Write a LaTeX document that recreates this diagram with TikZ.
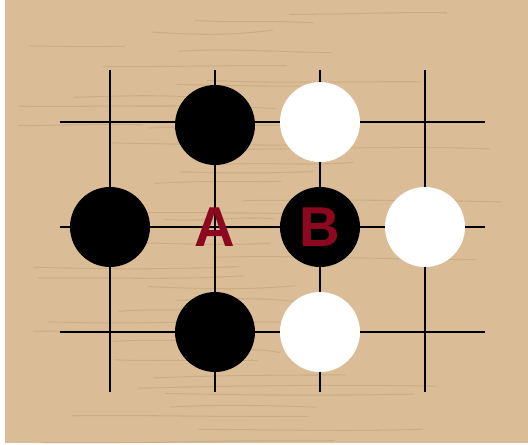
\documentclass[tikz,border=0pt]{standalone}
\usepackage{fontspec}
\setsansfont{Liberation Sans}
\usetikzlibrary{positioning}

\definecolor{wood}{RGB}{218,189,150}
\definecolor{grain}{RGB}{170,138,98}
\definecolor{marker}{RGB}{140,8,30}

\begin{document}
\begin{tikzpicture}[
          x=0.02cm, y=-0.02cm,
          stone/.style={circle, minimum size=1.6cm, inner sep=0pt},
          blackstone/.style={stone, fill=black},
          whitestone/.style={stone, fill=white},
          gridline/.style={line width=0.04cm, black},
          letter/.style={text=marker, font=\sffamily\bfseries\fontsize{32}{32}\selectfont, inner sep=0pt}
        ]
          \useasboundingbox (0,0) rectangle (528,444);
          % board with a little grain
          \fill[wood] (5,0) rectangle (528,443);
          \begin{scope}
            \clip (5,0) rectangle (528,443);
            \pgfmathsetseed{11}
            \foreach \k in {1,...,40} {
              \pgfmathsetmacro{\gy}{\k*11 + 5*rand}
              \pgfmathsetmacro{\gx}{5 + 300*rnd}
              \pgfmathsetmacro{\gl}{80 + 220*rnd}
              \draw[grain, line width=0.6pt, opacity=0.3]
                (\gx,\gy) .. controls (\gx+\gl/3,\gy+4*rand) and (\gx+2*\gl/3,\gy+4*rand) .. (\gx+\gl,\gy+3*rand);
            }
          \end{scope}

          % grid points
          \foreach \i/\x in {0/110, 1/215, 2/320, 3/425}
            \foreach \j/\y in {0/122, 1/227, 2/332}
              \coordinate (p-\i-\j) at (\x,\y);

          % grid lines
          \foreach \i in {0,...,3}
            \draw[gridline] ([yshift=1.04cm]p-\i-0) -- ([yshift=-1.2cm]p-\i-2);
          \foreach \j in {0,...,2}
            \draw[gridline] ([xshift=-1.0cm]p-0-\j) -- ([xshift=1.2cm]p-3-\j);

          % stones
          \node[blackstone] (b1) at ([yshift=-0.06cm]p-1-0) {};
          \node[blackstone] (b2) at (p-0-1) {};
          \node[blackstone] (b3) at (p-2-1) {};
          \node[blackstone] (b4) at (p-1-2) {};
          \node[whitestone] (w1) at (p-2-0) {};
          \node[whitestone] (w2) at (p-3-1) {};
          \node[whitestone] (w3) at (p-2-2) {};

          % marks
          \node[letter] (labA) at (p-1-1) {A};
          \node[letter] (labB) at (b3.center) {B};
\end{tikzpicture}
\end{document}
